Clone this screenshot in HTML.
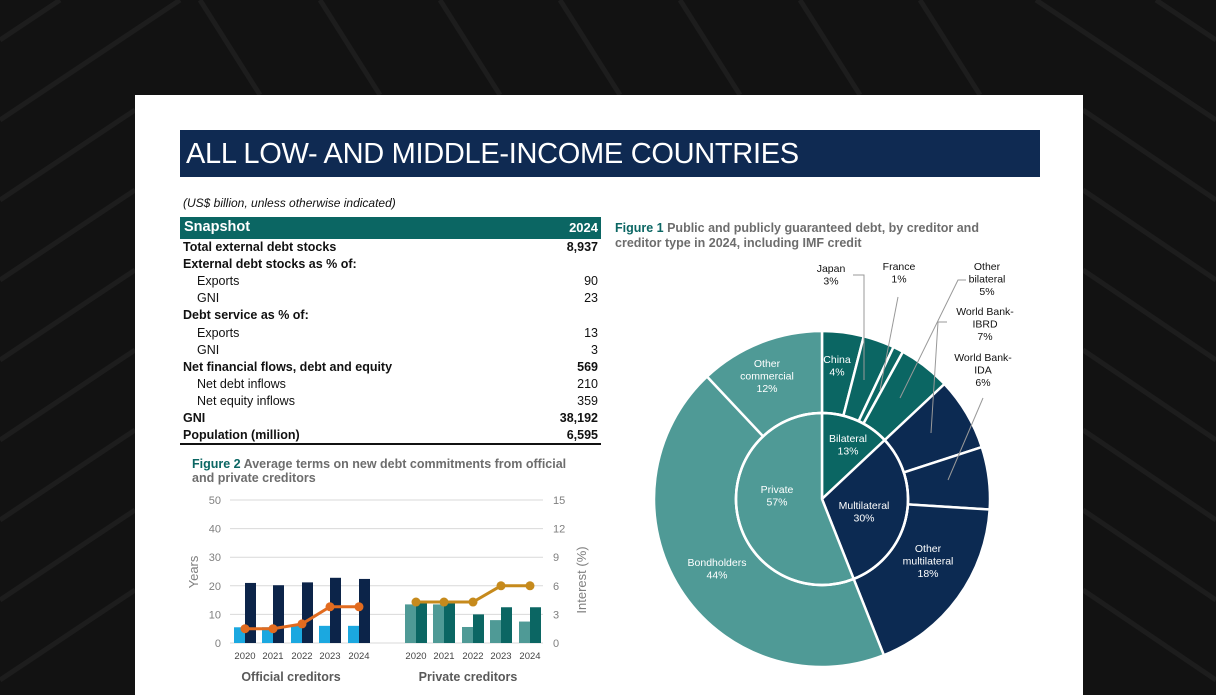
<!DOCTYPE html>
<html><head><meta charset="utf-8"><style>
*{margin:0;padding:0;box-sizing:border-box}
body{width:1216px;height:684px;overflow:hidden;background:#121212;font-family:"Liberation Sans",Arial,sans-serif;position:relative}
.bg{position:absolute;left:0;top:0}
.page{position:absolute;left:135px;top:95px;width:948px;height:600px;background:#fff}
.hdr{position:absolute;left:180px;top:130px;width:860px;height:47px;background:#0f2a52;color:#fff;font-size:29px;line-height:49px;padding-left:6px;letter-spacing:-0.3px;transform-origin:left}
.t{position:absolute;font-size:12.5px;color:#111;white-space:nowrap}
.b{font-weight:bold}
.r{text-align:right;width:100px}
</style></head><body>
<svg class="bg" width="1216" height="684">
<g stroke="#1d1d1d" stroke-width="5" fill="none">
<path d="M0 40 L60 0 M0 120 L120 40 L180 0 M0 200 L135 110 M0 280 L135 190 M0 360 L135 270 M0 440 L135 350 M0 520 L135 430 M0 600 L135 510 M0 680 L135 590"/>
<path d="M1216 40 L1156 0 M1216 120 L1096 40 L1036 0 M1216 200 L1083 110 M1216 280 L1083 190 M1216 360 L1083 270 M1216 440 L1083 350 M1216 520 L1083 430 M1216 600 L1083 510 M1216 680 L1083 590"/>
<path d="M200 0 L260 95 M320 0 L380 95 M440 0 L500 95 M560 0 L620 95 M680 0 L740 95 M800 0 L860 95 M920 0 L980 95"/>
</g></svg>
<div class="page"></div>
<div class="hdr">ALL LOW- AND MIDDLE-INCOME COUNTRIES</div>
<div class="t" style="left:183px;top:196px;font-style:italic;font-size:12px">(US$ billion, unless otherwise indicated)</div>
<div style="position:absolute;left:180px;top:217px;width:421px;height:22px;background:#0b6663"></div>
<div class="t b" style="left:184px;top:219px;color:#fff;font-size:14.5px">Snapshot</div>
<div class="t b r" style="left:498px;top:220px;color:#fff;font-size:13px">2024</div>
<div style="position:absolute;left:180px;top:443px;width:421px;height:2px;background:#111"></div>
<div id="rows"></div>

<div class="t b" style="left:192px;top:457px;color:#6d6d6d;font-size:12.5px;line-height:14px"><span style="color:#0b6663">Figure 2</span> Average terms on new debt commitments from official<br>and private creditors</div>
<div class="t b" style="left:615px;top:221px;color:#6d6d6d;font-size:12.5px;line-height:15px"><span style="color:#0b6663">Figure 1</span> Public and publicly guaranteed debt, by creditor and<br>creditor type in 2024, including IMF credit</div>

<svg id="bar" style="position:absolute;left:0;top:0" width="1216" height="684" font-family="Liberation Sans, Arial, sans-serif"></svg>
<svg id="pie" style="position:absolute;left:0;top:0" width="1216" height="684" font-family="Liberation Sans, Arial, sans-serif"></svg>
<script>
var rows=[["Total external debt stocks","8,937",1,0],["External debt stocks as % of:","",1,0],["Exports","90",0,1],["GNI","23",0,1],["Debt service as % of:","",1,0],["Exports","13",0,1],["GNI","3",0,1],["Net financial flows, debt and equity","569",1,0],["Net debt inflows","210",0,1],["Net equity inflows","359",0,1],["GNI","38,192",1,0],["Population (million)","6,595",1,0]];
var h="";rows.forEach(function(r,i){var y=240+i*17.1;
h+='<div class="t'+(r[2]?' b':'')+'" style="left:'+(r[3]?197:183)+'px;top:'+y+'px">'+r[0]+'</div>';
h+='<div class="t r'+(r[2]?' b':'')+'" style="left:498px;top:'+y+'px">'+r[1]+'</div>';});
document.getElementById("rows").innerHTML=h;

var s="",y0=643,k=2.86,x0=230,x1=543;
for(var i=0;i<=5;i++){var y=y0-i*10*k;
s+='<line x1="'+x0+'" x2="'+x1+'" y1="'+y+'" y2="'+y+'" stroke="#d9d9d9" stroke-width="1"/>';
s+='<text x="221" y="'+(y+4)+'" font-size="11" fill="#7f7f7f" text-anchor="end">'+(i*10)+'</text>';
s+='<text x="553" y="'+(y+4)+'" font-size="11" fill="#7f7f7f">'+(i*3)+'</text>';}
s+='<text transform="translate(198,572) rotate(-90)" font-size="13" fill="#7f7f7f" text-anchor="middle">Years</text>';
s+='<text transform="translate(586,580) rotate(-90)" font-size="13" fill="#7f7f7f" text-anchor="middle">Interest (%)</text>';
function grp(xs,a,b,ca,cb,ln,lc){var pts=[];
xs.forEach(function(x,i){s+='<rect x="'+(x-11)+'" y="'+(y0-a[i]*k)+'" width="11" height="'+(a[i]*k)+'" fill="'+ca+'"/>';
s+='<rect x="'+x+'" y="'+(y0-b[i]*k)+'" width="11" height="'+(b[i]*k)+'" fill="'+cb+'"/>';
s+='<text x="'+x+'" y="659" font-size="9.5" fill="#444" text-anchor="middle">'+(2020+i)+'</text>';
pts.push(x+','+(y0-ln[i]*10/3*k));});
s+='<polyline points="'+pts.join(' ')+'" fill="none" stroke="'+lc+'" stroke-width="3"/>';
pts.forEach(function(p){var q=p.split(',');s+='<circle cx="'+q[0]+'" cy="'+q[1]+'" r="4.5" fill="'+lc+'"/>';});}
grp([245,273,302,330,359],[5.5,5.5,6,6,6],[21,20.2,21.2,22.8,22.4],"#1ba8e0","#0c2449",[1.5,1.5,2,3.8,3.8],"#e26b1f");
grp([416,444,473,501,530],[13.5,13.5,5.6,8,7.5],[14,14,10,12.5,12.5],"#4f9a96","#0b6663",[4.3,4.3,4.3,6,6],"#c68a1c");
s+='<text x="291" y="681" font-size="12.5" font-weight="bold" fill="#595959" text-anchor="middle">Official creditors</text>';
s+='<text x="468" y="681" font-size="12.5" font-weight="bold" fill="#595959" text-anchor="middle">Private creditors</text>';
document.getElementById("bar").innerHTML=s;

var cx=822,cy=499,R=168,r=86,p="";
function pt(a,rad){var t=a*2*Math.PI/100;return [cx+rad*Math.sin(t),cy-rad*Math.cos(t)];}
function seg(a0,a1,ri,ro,c){var A=pt(a0,ro),B=pt(a1,ro),C=pt(a1,ri),D=pt(a0,ri),l=(a1-a0)>50?1:0;
var d='M'+A+' A'+ro+','+ro+' 0 '+l+' 1 '+B+' L'+C+(ri>0?' A'+ri+','+ri+' 0 '+l+' 0 '+D:'')+' Z';
p+='<path d="'+d+'" fill="'+c+'" stroke="#fff" stroke-width="2.5"/>';}
var T="#0b6663",N="#0c2a52",P="#4f9a96";
var outer=[[4,T],[3,T],[1,T],[5,T],[7,N],[6,N],[18,N],[44,P],[12,P]];
var a=0;outer.forEach(function(o){seg(a,a+o[0],r,R,o[1]);a+=o[0];});
seg(0,13,0,r,T);seg(13,44,0,r,N);seg(44,100,0,r,P);
p+='<circle cx="'+cx+'" cy="'+cy+'" r="'+r+'" fill="none" stroke="#fff" stroke-width="2.5"/>';
function tx(x,y,lines,c){lines.forEach(function(L,i){p+='<text x="'+x+'" y="'+(y+i*12.5)+'" font-size="10.5" fill="'+c+'" text-anchor="middle">'+L+'</text>';});}
var W="#fff",K="#111";
tx(837,363,["China","4%"],W);tx(848,442,["Bilateral","13%"],W);tx(864,509,["Multilateral","30%"],W);
tx(777,493,["Private","57%"],W);tx(767,367,["Other","commercial","12%"],W);tx(717,566,["Bondholders","44%"],W);
tx(928,552,["Other","multilateral","18%"],W);
tx(831,272,["Japan","3%"],K);tx(899,270,["France","1%"],K);tx(987,270,["Other","bilateral","5%"],K);
tx(985,315,["World Bank-","IBRD","7%"],K);tx(983,361,["World Bank-","IDA","6%"],K);
p+='<g stroke="#999" stroke-width="1" fill="none"><polyline points="853,275 864,275 864,380"/><line x1="898" y1="297" x2="880" y2="390"/><polyline points="966,280 958,280 900,398"/><polyline points="947,322 938,322 931,433"/><line x1="983" y1="398" x2="948" y2="480"/></g>';
document.getElementById("pie").innerHTML=p;
</script>
</body></html>
